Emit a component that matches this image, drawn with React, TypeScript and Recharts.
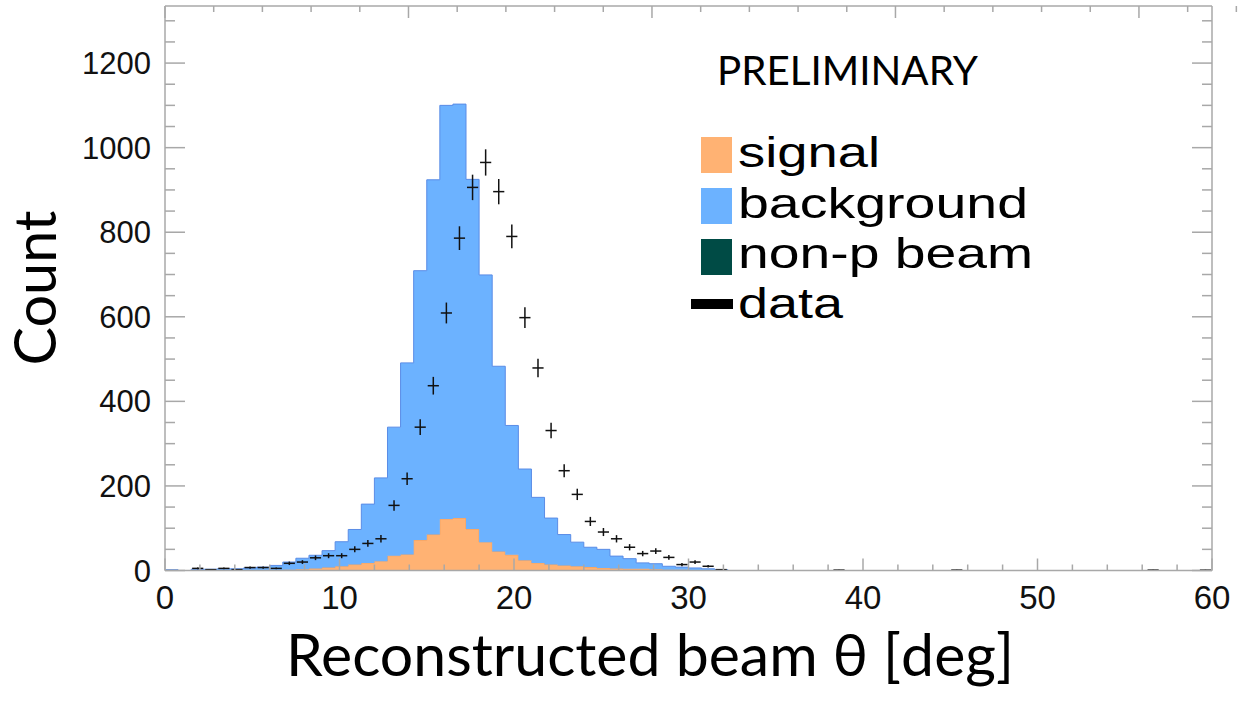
import { Area, ComposedChart, ErrorBar, Scatter, XAxis, YAxis } from "recharts";

// histogram bins, 0.75 deg wide; last edge closes the histogram
const binEdges = [
  0, 0.75, 1.5, 2.25, 3, 3.75, 4.5, 5.25, 6, 6.75, 7.5, 8.25, 9, 9.75, 10.5,
  11.25, 12, 12.75, 13.5, 14.25, 15, 15.75, 16.5, 17.25, 18, 18.75, 19.5,
  20.25, 21, 21.75, 22.5, 23.25, 24, 24.75, 25.5, 26.25, 27, 27.75, 28.5,
  29.25, 30, 30.75, 31.5, 32.25,
];
const signalCounts = [
  0, 0, 0, 0, 0, 0, 1, 1, 1, 2, 3, 5, 7, 10, 14, 18, 22, 35, 38, 72, 85, 122,
  124, 98, 67, 45, 37, 24, 18, 14, 12, 10, 8, 6, 5, 4, 4, 3, 2, 2, 1, 1, 0, 0,
];
const backgroundCounts = [
  2, 0, 3, 3, 4, 4, 5, 7, 11, 18, 26, 31, 40, 58, 83, 139, 197, 304, 453, 637,
  839, 978, 979, 827, 632, 438, 306, 216, 155, 110, 73, 57, 47, 44, 29, 24, 14,
  13, 8, 6, 5, 3, 2, 0,
];

// measured data points (bin centres)
const dataCenters = [
  1.875, 2.625, 3.375, 4.125, 4.875, 5.625, 6.375, 7.125, 7.875, 8.625, 9.375,
  10.125, 10.875, 11.625, 12.375, 13.125, 13.875, 14.625, 15.375, 16.125,
  16.875, 17.625, 18.375, 19.125, 19.875, 20.625, 21.375, 22.125, 22.875,
  23.625, 24.375, 25.125, 25.875, 26.625, 27.375, 28.125, 28.875, 29.625,
  30.375, 31.125, 31.875, 38.625, 45.375, 56.625, 59.625,
];
const dataCounts = [
  5, 2, 5, 2, 7, 7, 5, 17, 20, 30, 35, 35, 50, 64, 75, 154, 217, 339, 437, 609,
  786, 906, 965, 896, 790, 598, 479, 331, 236, 180, 116, 91, 75, 55, 40, 46, 31,
  14, 20, 10, 2, 1, 1, 1, 1,
];

const xTicks = [
  0, 2, 4, 6, 8, 10, 12, 14, 16, 18, 20, 22, 24, 26, 28, 30, 32, 34, 36, 38, 40,
  42, 44, 46, 48, 50, 52, 54, 56, 58, 60,
];
const xLabels = [0, 10, 20, 30, 40, 50, 60];
const yTicks = [
  0, 50, 100, 150, 200, 250, 300, 350, 400, 450, 500, 550, 600, 650, 700, 750,
  800, 850, 900, 950, 1000, 1050, 1100, 1150, 1200, 1250, 1300,
];
const yLabels = [0, 200, 400, 600, 800, 1000, 1200];

const legendItems = [
  { name: "signal", color: "#ffb273", width: 142 },
  { name: "background", color: "#6cb2ff", width: 290 },
  { name: "non-p beam", color: "#004b45", width: 295 },
];

const FRAME = "#a8a8a8";
const TICK_FONT = "'Liberation Sans', Arial, sans-serif";
const TITLE_FONT = "Lato, 'Open Sans', sans-serif";

const histRows = binEdges.map((x, i) => ({
  x,
  signal: signalCounts[i],
  background: backgroundCounts[i],
}));

const dataRows = dataCenters.map((x, i) => ({
  x,
  count: dataCounts[i],
  ex: 0.32,
  ey: Math.sqrt(dataCounts[i]),
}));

function BottomTick(props: any) {
  const { x, y, payload } = props;
  const major = xLabels.includes(payload.value);
  return (
    <g>
      <line x1={x} x2={x} y1={y} y2={y - (major ? 12 : 6)} stroke={FRAME} strokeWidth={1.5} />
      {major && (
        <text x={x} y={y + 38} textAnchor="middle" fontSize={33} fontFamily={TICK_FONT} fill="#111">
          {payload.value}
        </text>
      )}
    </g>
  );
}

function TopTick(props: any) {
  const { x, y, payload } = props;
  const major = xLabels.includes(payload.value);
  return <line x1={x} x2={x} y1={y} y2={y + (major ? 12 : 6)} stroke={FRAME} strokeWidth={1.5} />;
}

function LeftTick(props: any) {
  const { x, y, payload } = props;
  const major = yLabels.includes(payload.value);
  return (
    <g>
      <line x1={x} x2={x + (major ? 20 : 10)} y1={y} y2={y} stroke={FRAME} strokeWidth={1.5} />
      {major && (
        <text x={x - 14} y={y + 11} textAnchor="end" fontSize={31} fontFamily={TICK_FONT} fill="#111">
          {payload.value}
        </text>
      )}
    </g>
  );
}

function RightTick(props: any) {
  const { x, y, payload } = props;
  const major = yLabels.includes(payload.value);
  return <line x1={x} x2={x - (major ? 20 : 10)} y1={y} y2={y} stroke={FRAME} strokeWidth={1.5} />;
}

export default function App() {
  return (
    <div style={{ position: "absolute", left: 0, top: 0, width: 1239, height: 709, background: "#fff" }}>
      <ComposedChart
        width={1239}
        height={709}
        data={histRows}
        margin={{ top: 5, right: 26, bottom: 98.5, left: 0 }}
      >
        <XAxis
          dataKey="x"
          type="number"
          domain={[0, 60]}
          allowDataOverflow
          ticks={xTicks}
          interval={0}
          tickSize={0}
          tickMargin={0}
          tickLine={false}
          axisLine={{ stroke: FRAME, strokeWidth: 1.5 }}
          tick={(p: any) => <BottomTick {...p} />}
          height={40}
        />
        <XAxis
          xAxisId="top"
          orientation="top"
          type="number"
          domain={[0, 60]}
          allowDataOverflow
          ticks={xTicks}
          interval={0}
          tickSize={0}
          tickMargin={0}
          tickLine={false}
          axisLine={{ stroke: FRAME, strokeWidth: 1.5 }}
          tick={(p: any) => <TopTick {...p} />}
          height={1}
        />
        <YAxis
          type="number"
          domain={[0, 1335]}
          allowDataOverflow
          ticks={yTicks}
          interval={0}
          tickSize={0}
          tickMargin={0}
          tickLine={false}
          axisLine={{ stroke: FRAME, strokeWidth: 1.5 }}
          tick={(p: any) => <LeftTick {...p} />}
          width={165}
        />
        <YAxis
          yAxisId="right"
          orientation="right"
          type="number"
          domain={[0, 1335]}
          allowDataOverflow
          ticks={yTicks}
          interval={0}
          tickSize={0}
          tickMargin={0}
          tickLine={false}
          axisLine={{ stroke: FRAME, strokeWidth: 1.5 }}
          tick={(p: any) => <RightTick {...p} />}
          width={1}
        />
        <Area
          type="stepAfter"
          dataKey="signal"
          stackId="mc"
          stroke="#f0a060"
          strokeWidth={1}
          fill="#ffb273"
          fillOpacity={1}
          dot={false}
          activeDot={false}
          isAnimationActive={false}
        />
        <Area
          type="stepAfter"
          dataKey="background"
          stackId="mc"
          stroke="#5a8ce6"
          strokeWidth={1}
          fill="#6cb2ff"
          fillOpacity={1}
          dot={false}
          activeDot={false}
          isAnimationActive={false}
        />
        <Scatter data={dataRows} dataKey="count" shape={() => <g />} isAnimationActive={false}>
          <ErrorBar dataKey="ey" direction="y" width={0} stroke="#111" strokeWidth={1.5} isAnimationActive={false} />
          <ErrorBar dataKey="ex" direction="x" width={0} stroke="#111" strokeWidth={1.5} isAnimationActive={false} />
        </Scatter>
      </ComposedChart>

      <svg
        width={1239}
        height={709}
        style={{ position: "absolute", left: 0, top: 0, pointerEvents: "none" }}
      >
        <text x={717} y={85} fontSize={40} fontFamily={TITLE_FONT} textLength={261} lengthAdjust="spacingAndGlyphs" fill="#000">
          PRELIMINARY
        </text>
        {legendItems.map((item, i) => (
          <g key={item.name}>
            <rect x={701} y={137 + i * 51} width={31} height={36} fill={item.color} />
            <text
              x={738}
              y={167 + i * 50.5}
              fontSize={42}
              fontFamily={TICK_FONT}
              textLength={item.width}
              lengthAdjust="spacingAndGlyphs"
              fill="#000"
            >
              {item.name}
            </text>
          </g>
        ))}
        <rect x={691} y={299} width={42} height={10} fill="#000" />
        <text x={738} y={318} fontSize={42} fontFamily={TICK_FONT} textLength={105} lengthAdjust="spacingAndGlyphs" fill="#000">
          data
        </text>
        <text
          x={0}
          y={0}
          transform="translate(56,288) rotate(-90)"
          textAnchor="middle"
          fontSize={58}
          fontFamily={TITLE_FONT}
          textLength={155}
          lengthAdjust="spacingAndGlyphs"
          fill="#000"
        >
          Count
        </text>
        <text
          x={650}
          y={676}
          textAnchor="middle"
          fontSize={58}
          fontFamily={TITLE_FONT}
          textLength={728}
          lengthAdjust="spacingAndGlyphs"
          fill="#000"
        >
          Reconstructed beam θ [deg]
        </text>
      </svg>
    </div>
  );
}
